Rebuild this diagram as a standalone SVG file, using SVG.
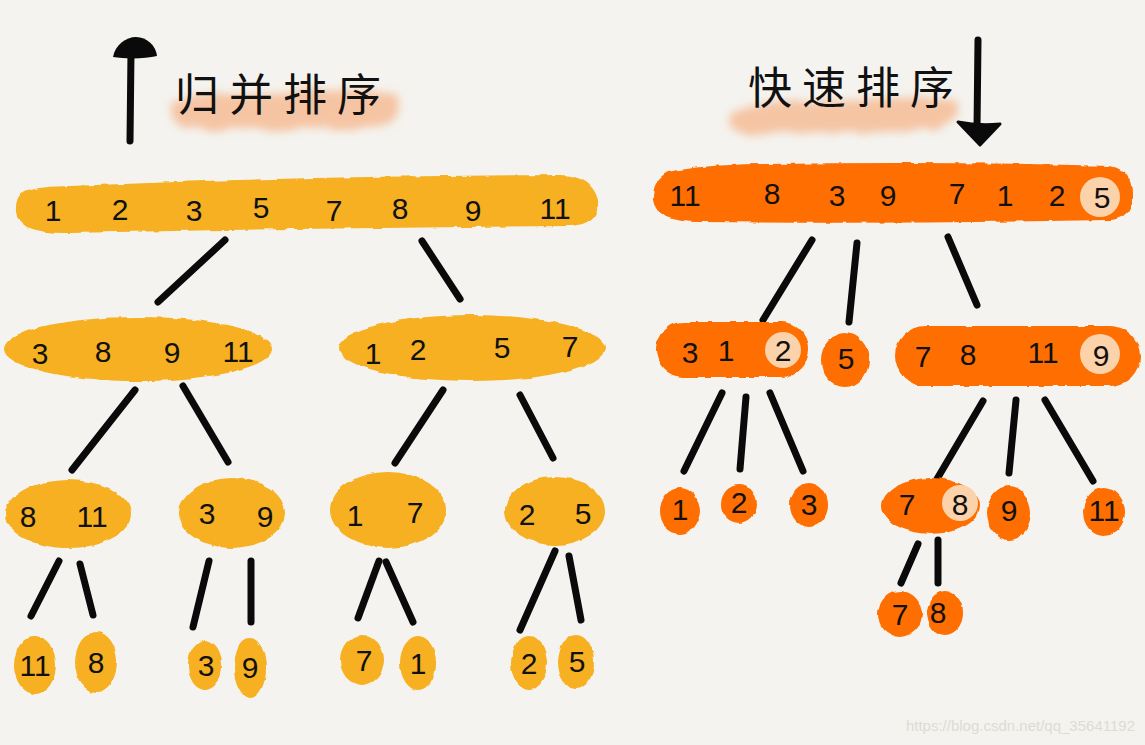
<svg xmlns="http://www.w3.org/2000/svg" width="1145" height="745" viewBox="0 0 1145 745">
<defs>
<filter id="rough" x="-10%" y="-20%" width="120%" height="140%">
<feTurbulence type="fractalNoise" baseFrequency="0.08" numOctaves="2" seed="3" result="n"/>
<feDisplacementMap in="SourceGraphic" in2="n" scale="4" xChannelSelector="R" yChannelSelector="G"/>
</filter>
<filter id="wash" x="-20%" y="-50%" width="140%" height="200%">
<feTurbulence type="fractalNoise" baseFrequency="0.05" numOctaves="2" seed="7" result="n"/>
<feDisplacementMap in="SourceGraphic" in2="n" scale="10" xChannelSelector="R" yChannelSelector="G" result="d"/>
<feGaussianBlur in="d" stdDeviation="4"/>
</filter>
<style>
.y{fill:#f6b021;filter:url(#rough)}
.o{fill:#ff6e00;filter:url(#rough)}
.h{fill:#fbd2a9}
.n{font-family:"Liberation Sans",Arial,sans-serif;font-size:30px;fill:#111;text-anchor:middle;dominant-baseline:central}
.t{font-family:"Noto Sans CJK SC","Noto Sans",sans-serif;font-size:44px;fill:#111;letter-spacing:10px}
.c{stroke:#0a0a0a;stroke-width:7;stroke-linecap:round;fill:none}
.w{fill:#f6b58a;opacity:0.75;filter:url(#wash)}
</style>
</defs>
<rect width="1145" height="745" fill="#f4f3ef"/>

<g id="title-merge">
<path class="w" d="M172 105 Q200 88 260 95 Q330 82 398 96 Q404 118 380 126 Q300 134 230 128 Q180 136 172 118 Z"/>
<line class="c" x1="131" y1="52" x2="130" y2="141" stroke-width="8"/>
<path d="M113 57 C115 45 126 37 136 37 C147 37 156 46 157 56 C145 59 125 59 113 57 Z" fill="#0a0a0a"/>
<text class="t" x="175" y="111">归并排序</text>
</g>

<g id="title-quick">
<path class="w" d="M730 112 Q770 96 840 102 Q900 94 955 100 Q962 122 935 130 Q860 136 790 132 Q735 138 730 124 Z"/>
<text class="t" x="748" y="104">快速排序</text>
<line class="c" x1="978" y1="40" x2="977" y2="128" stroke-width="8"/>
<path d="M958 122 Q978 126 1000 124 L980 145 Z" fill="#0a0a0a" stroke="#0a0a0a" stroke-width="3" stroke-linejoin="round"/>
</g>

<g id="connectors">
<line class="c" x1="225" y1="240" x2="158" y2="302"/>
<line class="c" x1="422" y1="241" x2="460" y2="299"/>
<line class="c" x1="135" y1="390" x2="72" y2="470"/>
<line class="c" x1="183" y1="386" x2="228" y2="462"/>
<line class="c" x1="443" y1="390" x2="395" y2="463"/>
<line class="c" x1="520" y1="395" x2="553" y2="458"/>
<line class="c" x1="59" y1="561" x2="31" y2="616"/>
<line class="c" x1="80" y1="564" x2="93" y2="615"/>
<line class="c" x1="209" y1="561" x2="193" y2="627"/>
<line class="c" x1="251" y1="561" x2="251" y2="622"/>
<line class="c" x1="379" y1="561" x2="358" y2="618"/>
<line class="c" x1="386" y1="562" x2="413" y2="622"/>
<line class="c" x1="555" y1="551" x2="520" y2="630" stroke-width="8"/>
<line class="c" x1="569" y1="556" x2="581" y2="620"/>
<line class="c" x1="812" y1="240" x2="763" y2="320"/>
<line class="c" x1="857" y1="243" x2="849" y2="322"/>
<line class="c" x1="948" y1="237" x2="977" y2="305"/>
<line class="c" x1="722" y1="393" x2="684" y2="471"/>
<line class="c" x1="746" y1="397" x2="740" y2="469"/>
<line class="c" x1="770" y1="393" x2="803" y2="471"/>
<line class="c" x1="983" y1="401" x2="937" y2="479"/>
<line class="c" x1="1016" y1="400" x2="1009" y2="473"/>
<line class="c" x1="1045" y1="400" x2="1093" y2="481"/>
<line class="c" x1="918" y1="544" x2="901" y2="583"/>
<line class="c" x1="938" y1="540" x2="938" y2="583"/>
</g>

<g id="m-root">
<path class="y" d="M24 192 Q40 186 70 186 Q300 176 560 175 Q592 176 598 200 Q600 224 570 226 Q300 228 70 233 Q18 234 16 212 Q15 198 24 192 Z"/>
<text class="n" x="53" y="210">1</text><text class="n" x="120" y="209">2</text><text class="n" x="194" y="210">3</text><text class="n" x="261" y="207">5</text><text class="n" x="334" y="210">7</text><text class="n" x="400" y="208">8</text><text class="n" x="473" y="210">9</text><text class="n" x="555" y="208">11</text>
</g>
<g id="m-l"><ellipse class="y" cx="138" cy="349" rx="134" ry="32"/>
<text class="n" x="40" y="353">3</text><text class="n" x="103" y="351">8</text><text class="n" x="172" y="352">9</text><text class="n" x="238" y="351">11</text></g>
<g id="m-r"><ellipse class="y" cx="472" cy="348" rx="133" ry="33"/>
<text class="n" x="373" y="353">1</text><text class="n" x="418" y="349">2</text><text class="n" x="502" y="347">5</text><text class="n" x="570" y="346">7</text></g>
<g id="m-ll"><ellipse class="y" cx="68" cy="514" rx="63" ry="34"/>
<text class="n" x="28" y="516">8</text><text class="n" x="92" y="516">11</text></g>
<g id="m-lr"><ellipse class="y" cx="232" cy="513" rx="53" ry="35"/>
<text class="n" x="207" y="513">3</text><text class="n" x="265" y="516">9</text></g>
<g id="m-rl"><ellipse class="y" cx="388" cy="510" rx="58" ry="38"/>
<text class="n" x="355" y="515">1</text><text class="n" x="415" y="512">7</text></g>
<g id="m-rr"><ellipse class="y" cx="555" cy="511" rx="50" ry="34"/>
<text class="n" x="527" y="514">2</text><text class="n" x="583" y="513">5</text></g>
<g id="m-11"><ellipse class="y" cx="35" cy="665" rx="21" ry="29"/><text class="n" x="35" y="665">11</text></g>
<g id="m-8"><ellipse class="y" cx="96" cy="662" rx="21" ry="30"/><text class="n" x="96" y="662">8</text></g>
<g id="m-3"><ellipse class="y" cx="205" cy="665" rx="17" ry="25"/><text class="n" x="206" y="665">3</text></g>
<g id="m-9"><ellipse class="y" cx="250" cy="668" rx="16" ry="30"/><text class="n" x="250" y="667">9</text></g>
<g id="m-7"><ellipse class="y" cx="362" cy="660" rx="22" ry="25"/><text class="n" x="364" y="660">7</text></g>
<g id="m-1"><ellipse class="y" cx="418" cy="663" rx="18" ry="27"/><text class="n" x="418" y="663">1</text></g>
<g id="m-2"><ellipse class="y" cx="529" cy="663" rx="18" ry="27"/><text class="n" x="529" y="663">2</text></g>
<g id="m-5"><ellipse class="y" cx="576" cy="662" rx="18" ry="27"/><text class="n" x="577" y="661">5</text></g>

<g id="q-root">
<path class="o" d="M668 172 Q700 165 760 164 Q950 161 1110 166 Q1133 170 1132 196 Q1132 218 1110 220 Q900 224 700 222 Q656 222 653 200 Q652 180 668 172 Z"/>
<circle class="h" cx="1100" cy="197" r="20"/>
<text class="n" x="685" y="195">11</text><text class="n" x="772" y="193">8</text><text class="n" x="837" y="195">3</text><text class="n" x="888" y="195">9</text><text class="n" x="957" y="193">7</text><text class="n" x="1005" y="195">1</text><text class="n" x="1057" y="195">2</text><text class="n" x="1102" y="197">5</text>
</g>
<g id="q-l"><rect class="o" x="656" y="322" width="152" height="55" rx="27"/>
<circle class="h" cx="783" cy="350" r="18"/>
<text class="n" x="690" y="352">3</text><text class="n" x="726" y="350">1</text><text class="n" x="783" y="350">2</text></g>
<g id="q-5"><ellipse class="o" cx="845" cy="360" rx="24" ry="27"/><text class="n" x="846" y="358">5</text></g>
<g id="q-r"><rect class="o" x="895" y="326" width="245" height="60" rx="30"/>
<circle class="h" cx="1100" cy="354" r="20"/>
<text class="n" x="923" y="356">7</text><text class="n" x="968" y="354">8</text><text class="n" x="1043" y="352">11</text><text class="n" x="1101" y="355">9</text></g>
<g id="q-1"><ellipse class="o" cx="680" cy="511" rx="20" ry="23"/><text class="n" x="680" y="509">1</text></g>
<g id="q-2"><ellipse class="o" cx="739" cy="504" rx="18" ry="19"/><text class="n" x="739" y="502">2</text></g>
<g id="q-3"><ellipse class="o" cx="809" cy="505" rx="19" ry="22"/><text class="n" x="809" y="504">3</text></g>
<g id="q-78"><ellipse class="o" cx="931" cy="506" rx="49" ry="28"/>
<circle class="h" cx="960" cy="503" r="18"/>
<text class="n" x="907" y="504">7</text><text class="n" x="960" y="504">8</text></g>
<g id="q-9"><ellipse class="o" cx="1009" cy="513" rx="22" ry="27"/><text class="n" x="1009" y="510">9</text></g>
<g id="q-11"><ellipse class="o" cx="1104" cy="512" rx="21" ry="24"/><text class="n" x="1104" y="510">11</text></g>
<g id="q-7"><ellipse class="o" cx="900" cy="614" rx="22" ry="23"/><text class="n" x="900" y="614">7</text></g>
<g id="q-8"><ellipse class="o" cx="945" cy="613" rx="18" ry="22"/><text class="n" x="938" y="612">8</text></g>

<text x="1135" y="731" text-anchor="end" font-family="Liberation Sans,Arial,sans-serif" font-size="15" fill="#dedbd5">https://blog.csdn.net/qq_35641192</text>
</svg>
